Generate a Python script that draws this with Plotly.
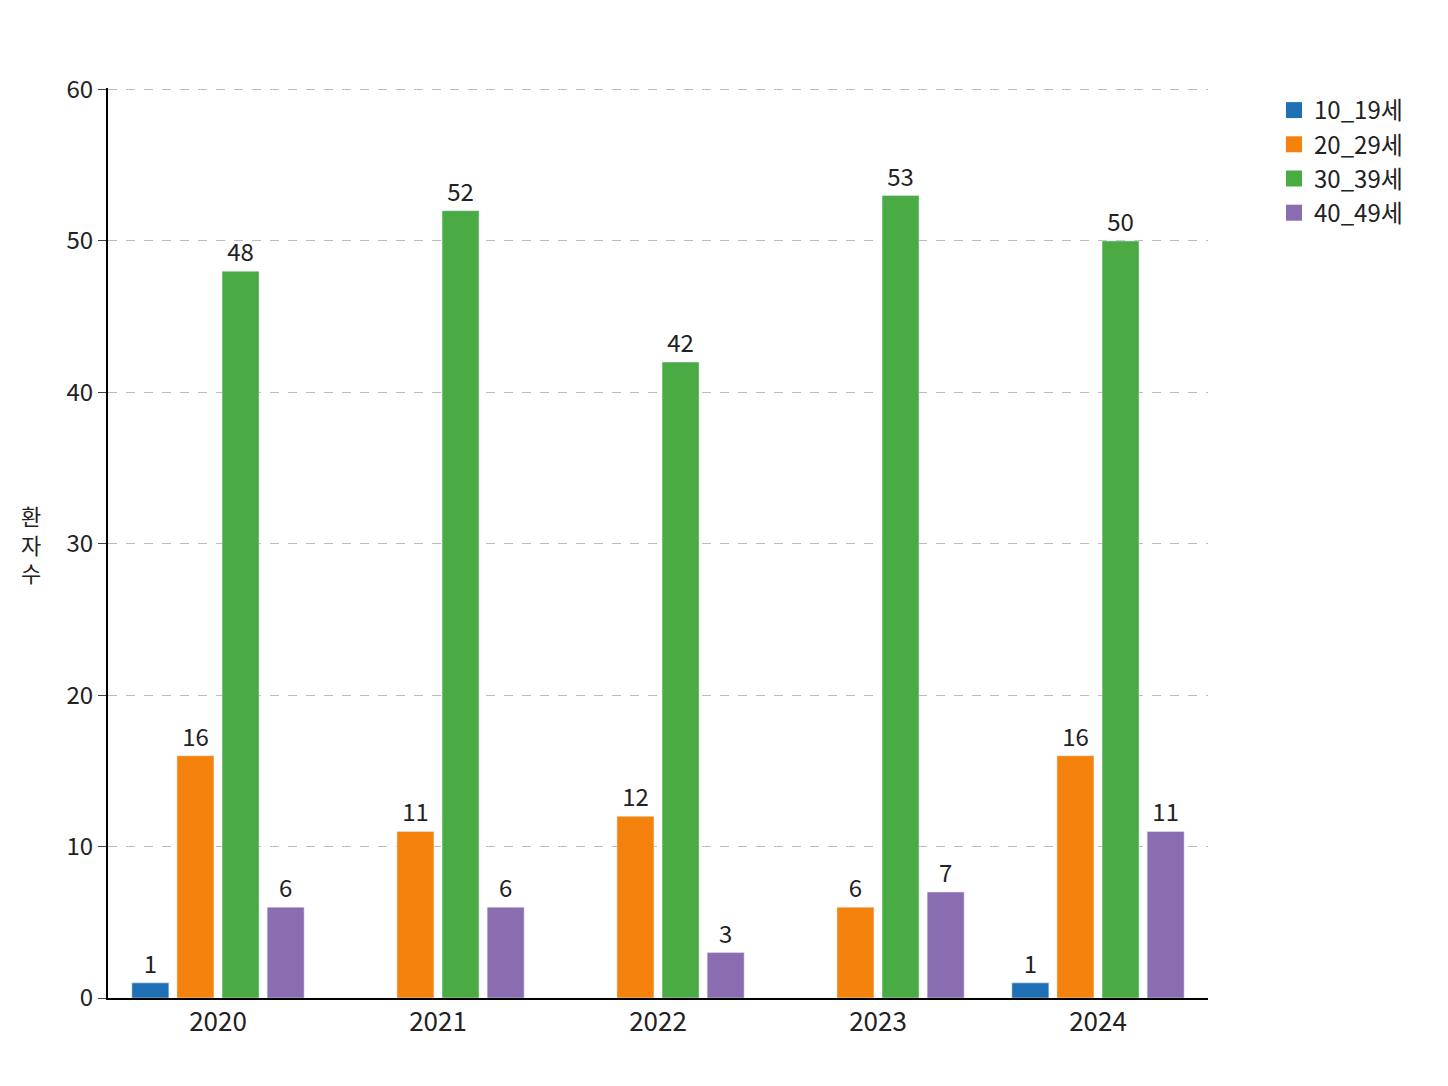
import plotly.graph_objects as go

years = ["2020", "2021", "2022", "2023", "2024"]
age_groups = ["10_19세", "20_29세", "30_39세", "40_49세"]
values = {
    "10_19세": [1, None, None, None, 1],
    "20_29세": [16, 11, 12, 6, 16],
    "30_39세": [48, 52, 42, 53, 50],
    "40_49세": [6, 6, 3, 7, 11],
}
colors = ["#1f6fb4", "#f5820d", "#4aab45", "#8a6db0"]

fig = go.Figure()
for name, color in zip(age_groups, colors):
    fig.add_trace(go.Bar(
        x=years, y=values[name], name=name, marker_color=color,
        text=values[name], textposition="outside", cliponaxis=False,
        textfont=dict(size=24, color="#222"), showlegend=False,
    ))
# legend entries with big square swatches
for name, color in zip(age_groups, colors):
    fig.add_trace(go.Scatter(
        x=[None], y=[None], mode="markers", name=name,
        marker=dict(symbol="square", size=28, color=color),
    ))

fig.update_layout(
    width=1448, height=1086,
    barmode="group", bargap=0.18, bargroupgap=0.18,
    plot_bgcolor="white", paper_bgcolor="white",
    font=dict(family="Noto Sans CJK KR", size=24, color="#222"),
    margin=dict(l=100, r=248, t=80, b=96, autoexpand=False),
    legend=dict(x=1.06, y=1.0, xanchor="left", yanchor="top",
                font=dict(size=24), tracegroupgap=14),
    annotations=[dict(text="환<br>자<br>수", x=22, y=0.5, xref="paper",
                      yref="paper", xanchor="center", yanchor="middle",
                      showarrow=False, font=dict(size=22))],
)
fig.layout.annotations[0].update(x=-0.07)
fig.update_yaxes(
    range=[0, 60.1], tickvals=[0, 10, 20, 30, 40, 50, 60], showline=True,
    linecolor="black", linewidth=2, ticks="outside", ticklen=8,
    showgrid=True, gridcolor="#bbbbbb", griddash="dash", zeroline=False,
)
fig.update_xaxes(showline=True, linecolor="black", linewidth=2,
                 ticks="", tickfont=dict(size=26))

fig.write_html("out.html")
